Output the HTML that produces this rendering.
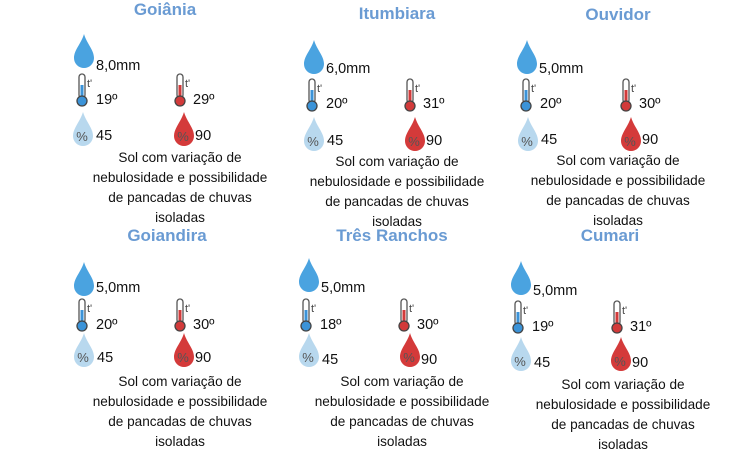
<!DOCTYPE html><html><head><meta charset="utf-8"><style>
body{margin:0;width:750px;height:451px;background:#fff;position:relative;overflow:hidden;font-family:"Liberation Sans",sans-serif;color:#111}
.a{position:absolute;white-space:nowrap}
.t{font-weight:bold;color:#6a9bd3;font-size:17px;transform:translateX(-50%)}
.v{font-size:14.5px}
.d{font-size:13.6px;line-height:20px;text-align:center;transform:translateX(-50%)}
svg{position:absolute;overflow:visible}
</style></head><body>
<script>
const P=[
{n:"Goiânia",tx:165,ty:0,dx:74,dy:34,mmy:58,th:[76,73],tv:"19º",tvy:92,rh:[174,73],rv:"29º",hy:112,hx:73,hv:"45",hvy:128,rhx:174,mm:"8,0mm",dcx:180,dcy:148},
{n:"Itumbiara",tx:397,ty:4,dx:304,dy:40,mm:"6,0mm",mmy:61,th:[306,78],tv:"20º",tvy:96,rh:[404,78],rv:"31º",hy:117,hx:304,hv:"45",hvy:133,rhx:405,dcx:397,dcy:152},
{n:"Ouvidor",tx:618,ty:5,dx:517,dy:40,mm:"5,0mm",mmy:61,th:[520,78],tv:"20º",tvy:96,rh:[620,78],rv:"30º",hy:117,hx:518,hv:"45",hvy:132,rhx:621,dcx:618,dcy:151},
{n:"Goiandira",tx:167,ty:226,dx:74,dy:262,mm:"5,0mm",mmy:280,th:[76,298],tv:"20º",tvy:317,rh:[174,298],rv:"30º",hy:333,hx:74,hv:"45",hvy:350,rhx:174,dcx:180,dcy:372},
{n:"Três Ranchos",tx:392,ty:226,dx:299,dy:258,mm:"5,0mm",mmy:280,th:[300,298],tv:"18º",tvy:317,rh:[398,298],rv:"30º",hy:333,hx:299,hv:"45",hvy:352,rhx:400,dcx:402,dcy:372},
{n:"Cumari",tx:610,ty:226,dx:511,dy:261,mm:"5,0mm",mmy:283,th:[512,300],tv:"19º",tvy:319,rh:[611,300],rv:"31º",hy:337,hx:511,hv:"45",hvy:355,rhx:611,dcx:623,dcy:375}];
const drop=(x,y,c,pct)=>`<svg style="left:${x}px;top:${y}px" width="20" height="34"><path d="M10 0 C13 10 20 16 20 24 A10 10 0 0 1 0 24 C0 16 7 10 10 0Z" fill="${c}"/>${pct?`<text x="9" y="29" font-size="13" fill="#555" text-anchor="middle" font-family="Liberation Sans">%</text>`:''}</svg>`;
const th=(x,y,c)=>`<svg style="left:${x}px;top:${y}px" width="22" height="34"><rect x="3" y="1" width="6" height="24" rx="3" fill="#fff" stroke="#555" stroke-width="1.3"/><rect x="4.5" y="12" width="3" height="14" fill="${c}"/><circle cx="6" cy="28" r="5" fill="${c}" stroke="#444" stroke-width="1.3"/><text x="11" y="14" font-size="11" fill="#444" font-family="Liberation Sans">t'</text></svg>`;
let h="";
const lines=["Sol com variação de","nebulosidade e possibilidade","de pancadas de chuvas","isoladas"];
for(const p of P){
h+=`<div class="a t" style="left:${p.tx}px;top:${p.ty}px">${p.n}</div>`;
h+=drop(p.dx,p.dy,"#4aa3e0");
h+=`<div class="a v" style="left:${p.dx+22}px;top:${p.mmy}px">${p.mm}</div>`;
h+=th(p.th[0],p.th[1],"#3b93d8")+th(p.rh[0],p.rh[1],"#d23a3a");
h+=`<div class="a v" style="left:${p.th[0]+20}px;top:${p.tvy}px">${p.tv}</div><div class="a v" style="left:${p.rh[0]+19}px;top:${p.tvy}px">${p.rv}</div>`;
h+=drop(p.hx,p.hy,"#b8d8ee",1)+drop(p.rhx,p.hy,"#d43a3a",1);
h+=`<div class="a v" style="left:${p.hx+23}px;top:${p.hvy}px">45</div><div class="a v" style="left:${p.rhx+21}px;top:${p.hvy}px">90</div>`;
h+=`<div class="a d" style="left:${p.dcx}px;top:${p.dcy}px">${lines.join("<br>")}</div>`;
}
document.body.insertAdjacentHTML("beforeend",h);
</script>
</body></html>
